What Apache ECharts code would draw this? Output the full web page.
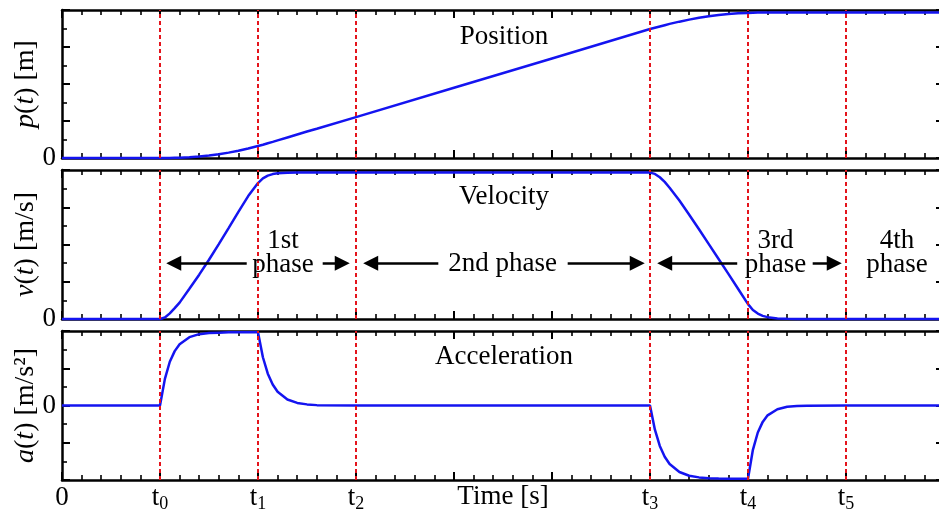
<!DOCTYPE html>
<html>
<head>
<meta charset="utf-8">
<script src="https://cdn.jsdelivr.net/npm/echarts@6/dist/echarts.min.js"></script>
<style>
html,body{margin:0;padding:0;background:#fff;}
#chart{width:939px;height:511px;}
</style>
</head>
<body>
<div id="chart"></div>
<script>
// Sample times [s]
const timeS = [0, 1.0, 1.05, 1.1, 1.15, 1.2, 1.3, 1.4, 1.5, 1.6, 1.7, 1.8, 1.9, 2.0,
  2.05, 2.1, 2.15, 2.2, 2.3, 2.4, 2.5, 2.6, 3.0, 4.0, 5.0, 6.0,
  6.05, 6.1, 6.15, 6.2, 6.3, 6.4, 6.5, 6.6, 6.7, 6.8, 6.9, 7.0,
  7.05, 7.1, 7.15, 7.2, 7.3, 7.4, 7.5, 7.6, 8.0, 9.0];

// Position p(t)
const position = [0, 0, 0, 0, 0.01, 0.01, 0.04, 0.08, 0.13, 0.20, 0.29, 0.39, 0.51, 0.65,
  0.72, 0.80, 0.87, 0.95, 1.11, 1.27, 1.43, 1.58, 2.21, 3.80, 5.38, 6.97,
  7.04, 7.11, 7.18, 7.25, 7.37, 7.48, 7.58, 7.66, 7.73, 7.78, 7.82, 7.84,
  7.85, 7.86, 7.86, 7.86, 7.86, 7.86, 7.86, 7.86, 7.86, 7.86];

// Velocity v(t)
const velocity = [0, 0, 0.08, 0.30, 0.58, 0.88, 1.62, 2.38, 3.18, 4.02, 4.88, 5.75, 6.60, 7.30,
  7.55, 7.70, 7.78, 7.82, 7.85, 7.86, 7.86, 7.86, 7.86, 7.86, 7.86, 7.86,
  7.79, 7.61, 7.36, 7.05, 6.36, 5.60, 4.82, 4.02, 3.22, 2.42, 1.61, 0.80,
  0.48, 0.29, 0.17, 0.10, 0.03, 0.01, 0, 0, 0, 0];

// Acceleration a(t)
const acceleration = [0, 0, 1.43, 2.35, 2.92, 3.29, 3.67, 3.83, 3.89, 3.91, 3.93, 3.93, 3.93, 3.93,
  2.59, 1.71, 1.13, 0.74, 0.32, 0.14, 0.06, 0.02, 0, 0, 0, 0,
  -1.30, -2.17, -2.75, -3.14, -3.57, -3.77, -3.86, -3.90, -3.92, -3.93, -3.93, -3.93,
  -2.38, -1.45, -0.88, -0.53, -0.20, -0.07, -0.03, -0.01, 0, 0];

// Phase boundaries t0..t5 [s]
const phaseBounds = [1, 2, 3, 6, 7, 8];
// Time-axis tick labels at whole seconds 0..9
const timeTickLabels = ['0', 't0', 't1', 't2', '', '', 't3', 't4', 't5', ''];

// Phase arrows on the velocity panel: [tail, head] times, height
const phaseArrows = [[1.885, 1.14], [2.66, 2.86], [3.84, 3.15], [5.16, 5.87], [6.89, 6.15], [7.66, 7.88]];
const arrowLevel = 3.0;
// Phase captions: [time, height, text]
const phaseCaptions = [[2.255, 3.56, '1st\nphase'], [4.495, 2.95, '2nd phase'], [7.28, 3.56, '3rd\nphase'], [8.52, 3.56, '4th\nphase']];
const panelTitles = ['Position', 'Velocity', 'Acceleration'];

const FONT = 'Liberation Serif';
const BLACK = '#000';
const BLUE = '#1414f0';
const RED = '#e4141c';

const grids = [
  {left: 62, width: 882, top: 10, height: 148, outerBoundsMode: 'none', containLabel: false},
  {left: 62, width: 882, top: 170, height: 149, outerBoundsMode: 'none', containLabel: false},
  {left: 62, width: 882, top: 331, height: 149, outerBoundsMode: 'none', containLabel: false}
];

const frameLine = {show: true, onZero: false, lineStyle: {color: BLACK, width: 2.5}};
const majorTick = {show: true, inside: true, length: 8, lineStyle: {color: BLACK, width: 2}};

function xAxisPair(gi) {
  const base = {
    type: 'value', gridIndex: gi, min: 0, max: 9, interval: 1,
    axisLine: frameLine, axisTick: majorTick,
    minorTick: {show: true, splitNumber: 5, length: 5, lineStyle: {color: BLACK, width: 1.6}},
    splitLine: {show: false}, minorSplitLine: {show: false}
  };
  const bottom = Object.assign({}, base, {position: 'bottom', axisLabel: {show: false}});
  if (gi === 2) {
    bottom.axisLabel = {
      show: true, margin: 3, color: BLACK, fontFamily: FONT, fontSize: 27,
      formatter: function (v) {
        const s = timeTickLabels[Math.round(v)] || '';
        if (s.length === 2) return '{t|' + s[0] + '}{s|' + s[1] + '}';
        return s === '' ? '' : '{n|' + s + '}';
      },
      rich: {
        t: {fontFamily: FONT, fontSize: 27, lineHeight: 30, color: BLACK},
        n: {fontFamily: FONT, fontSize: 27, lineHeight: 30, color: BLACK},
        s: {fontFamily: FONT, fontSize: 18, lineHeight: 18, verticalAlign: 'bottom', color: BLACK}
      }
    };
    bottom.name = 'Time [s]';
    bottom.nameLocation = 'middle';
    bottom.nameGap = 2;
    bottom.nameMoveOverlap = false;
    bottom.nameTextStyle = {fontFamily: FONT, fontSize: 27, color: BLACK, verticalAlign: 'top', lineHeight: 30};
  }
  const top = Object.assign({}, base, {position: 'top', axisLabel: {show: false}});
  return [bottom, top];
}

function yAxisPair(gi, min, max, name) {
  const base = {
    type: 'value', gridIndex: gi, min: min, max: max, interval: 2,
    axisLine: frameLine, axisTick: majorTick,
    minorTick: {show: true, splitNumber: 2, length: 5, lineStyle: {color: BLACK, width: 1.6}},
    splitLine: {show: false}, minorSplitLine: {show: false}
  };
  const left = Object.assign({}, base, {
    position: 'left',
    axisLabel: {show: true, margin: 6, color: BLACK, fontFamily: FONT, fontSize: 27,
      formatter: function (v) { return v === 0 ? '0' : ''; }},
    name: name, nameLocation: 'middle', nameGap: 22, nameRotate: 90, nameMoveOverlap: false,
    nameTextStyle: {fontFamily: FONT, fontSize: 28, color: BLACK,
      rich: {i: {fontFamily: FONT, fontSize: 28, fontStyle: 'italic', color: BLACK}}}
  });
  const right = Object.assign({}, base, {position: 'right', axisLabel: {show: false}});
  return [left, right];
}

function pairs(values) {
  return timeS.map(function (t, i) { return [t, values[i]]; });
}

function boundaryLines() {
  return phaseBounds.map(function (t) {
    return {xAxis: t, lineStyle: {color: RED, type: [4, 3], width: 2}};
  });
}

function titleMark(gi, t, y) {
  return {
    symbol: 'circle', symbolSize: 0, silent: true,
    label: {show: true, position: 'inside', color: BLACK, fontFamily: FONT, fontSize: 27},
    data: [{coord: [t, y], value: 0, label: {formatter: panelTitles[gi]}}]
  };
}

const arrowItems = phaseArrows.map(function (a) {
  const ls = {color: BLACK, type: 'solid', width: 2.5};
  return [
    {coord: [a[0], arrowLevel], symbol: 'none', lineStyle: ls},
    {coord: [a[1], arrowLevel], symbol: 'triangle', symbolSize: [15, 15], lineStyle: ls}
  ];
});

const lineStyleMain = {color: BLUE, width: 2.5};

const velTitle = titleMark(1, 4.51, 6.56);
velTitle.data = velTitle.data.concat(phaseCaptions.map(function (c) {
  return {coord: [c[0], c[1]], value: 0, label: {formatter: c[2], lineHeight: 24}};
}));

const option = {
  animation: false,
  backgroundColor: '#fff',
  grid: grids,
  xAxis: [].concat(xAxisPair(0), xAxisPair(1), xAxisPair(2)),
  yAxis: [].concat(
    yAxisPair(0, 0, 8, '{i|p}({i|t}) [m]'),
    yAxisPair(1, 0, 8, '{i|v}({i|t}) [m/s]'),
    yAxisPair(2, -4, 4, '{i|a}({i|t}) [m/s²]')
  ),
  series: [
    {
      type: 'line', name: 'Position', xAxisIndex: 0, yAxisIndex: 0,
      data: pairs(position), showSymbol: false, clip: false,
      lineStyle: lineStyleMain, itemStyle: {color: BLUE},
      markLine: {silent: true, symbol: ['none', 'none'], label: {show: false}, data: boundaryLines()},
      markPoint: titleMark(0, 4.51, 6.54)
    },
    {
      type: 'line', name: 'Velocity', xAxisIndex: 2, yAxisIndex: 2,
      data: pairs(velocity), showSymbol: false, clip: false,
      lineStyle: lineStyleMain, itemStyle: {color: BLUE},
      markLine: {silent: true, symbol: ['none', 'none'], label: {show: false},
        data: boundaryLines().concat(arrowItems)},
      markPoint: velTitle
    },
    {
      type: 'line', name: 'Acceleration', xAxisIndex: 4, yAxisIndex: 4,
      data: pairs(acceleration), showSymbol: false, clip: false,
      lineStyle: lineStyleMain, itemStyle: {color: BLUE},
      markLine: {silent: true, symbol: ['none', 'none'], label: {show: false}, data: boundaryLines()},
      markPoint: titleMark(2, 4.51, 2.63)
    }
  ]
};

const chart = echarts.init(document.getElementById('chart'), null, {renderer: 'canvas'});
chart.setOption(option);
</script>
</body>
</html>
